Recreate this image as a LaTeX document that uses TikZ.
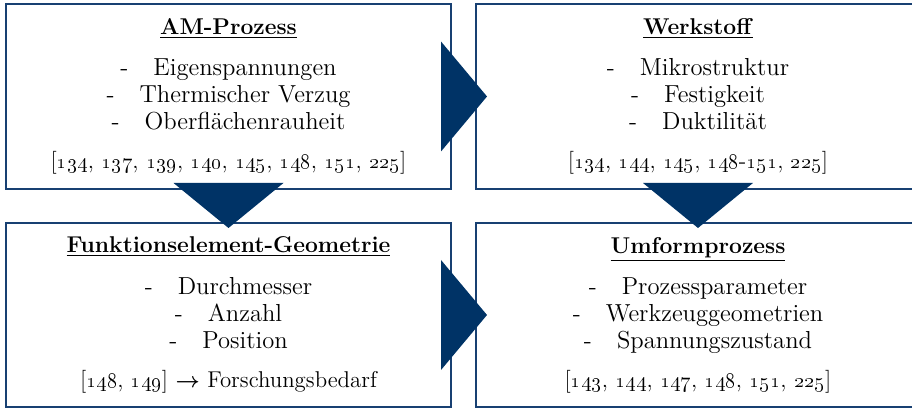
\documentclass[tikz,border=0pt]{standalone}
\definecolor{rahmenblau}{RGB}{24,64,114}
\definecolor{pfeilblau}{RGB}{0,51,102}
\newcommand{\os}[1]{\oldstylenums{#1}}
\newcommand{\pkt}[1]{-\hspace{0.5cm}#1}
\newcommand{\kl}{\fontsize{13}{15.4}\selectfont}
\begin{document}
\begin{tikzpicture}[kasten/.style={draw=rahmenblau,line width=0.05cm,outer sep=0pt,
        minimum width=8.9cm,minimum height=3.7cm,align=center,
        font=\fontsize{14}{15.4}\selectfont},
    pfeil/.style={fill=pfeilblau}]
    \useasboundingbox (0,0) rectangle (18.24,8.18);
    \node[kasten] (amproz) at (4.57,6.25) {{\kl\underline{\textbf{AM-Prozess}}}\\[0.28cm]
        \pkt{Eigenspannungen}\\ \pkt{Thermischer Verzug}\\ \pkt{Oberflächenrauheit}\\[0.24cm]
        {\kl[\os{134}, \os{137}, \os{139}, \os{140}, \os{145}, \os{148}, \os{151}, \os{225}]}};
    \node[kasten,minimum width=8.88cm] (werkstoff) at (13.96,6.25) {{\kl\underline{\textbf{Werkstoff}}}\\[0.28cm]
        \pkt{Mikrostruktur}\\ \pkt{Festigkeit}\\ \pkt{Duktilität}\\[0.24cm]
        {\kl[\os{134}, \os{144}, \os{145}, \os{148}-\os{151}, \os{225}]}};
    \node[kasten,minimum height=3.68cm] (geometrie) at (4.57,1.88) {{\kl\underline{\textbf{Funktionselement-Geometrie}}}\\[0.28cm]
        \pkt{Durchmesser}\\ \pkt{Anzahl}\\ \pkt{Position}\\[0.24cm]
        {\kl[\os{148}, \os{149}] {\boldmath$\rightarrow$} Forschungsbedarf}};
    \node[kasten,minimum width=8.88cm,minimum height=3.68cm] (umform) at (13.96,1.88) {{\kl\underline{\textbf{Umformprozess}}}\\[0.28cm]
        \pkt{Prozessparameter}\\ \pkt{Werkzeuggeometrien}\\ \pkt{Spannungszustand}\\[0.24cm]
        {\kl[\os{143}, \os{144}, \os{147}, \os{148}, \os{151}, \os{225}]}};
    % Pfeile nach rechts
    \foreach \n in {amproz,geometrie}
        \fill[pfeil] ([xshift=-0.2cm,yshift=1.1cm]\n.east) -- ([xshift=0.72cm]\n.east)
            -- ([xshift=-0.2cm,yshift=-1.1cm]\n.east) -- cycle;
    % Pfeile nach unten
    \foreach \n in {amproz,werkstoff}
        \fill[pfeil] ([xshift=-1.1cm,yshift=0.12cm]\n.south) -- ([yshift=-0.78cm]\n.south)
            -- ([xshift=1.1cm,yshift=0.12cm]\n.south) -- cycle;
\end{tikzpicture}
\end{document}
